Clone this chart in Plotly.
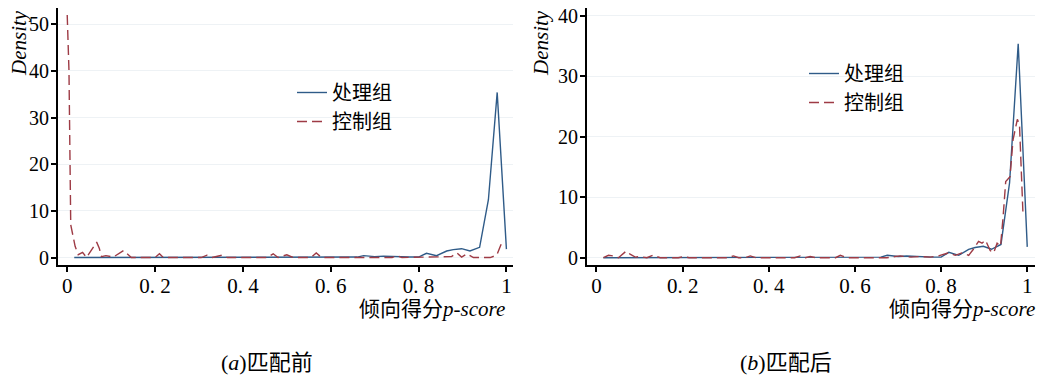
import plotly.graph_objects as go

# ---------------- data ----------------
treat_x = [0.016, 0.1, 0.2, 0.3, 0.4, 0.5, 0.6, 0.64, 0.66, 0.675, 0.70, 0.72, 0.74, 0.76,
           0.78, 0.80, 0.818, 0.841, 0.864, 0.879, 0.898, 0.917, 0.939, 0.959, 0.979, 1.0]
treat_y = [0, 0, 0, 0, 0, 0, 0, 0, 0.1, 0.4, 0.2, 0.3, 0.2, 0.1,
           0.1, 0.1, 0.9, 0.4, 1.4, 1.7, 1.9, 1.4, 2.2, 12.4, 35.4, 1.8]

ctrl_before_x = [0.0, 0.004, 0.008, 0.018, 0.025, 0.035, 0.044, 0.067, 0.073, 0.078, 0.088,
                 0.105, 0.128, 0.146, 0.2, 0.21, 0.219, 0.305, 0.318, 0.33, 0.352, 0.365,
                 0.455, 0.469, 0.48, 0.5, 0.515, 0.555, 0.567, 0.579, 0.74, 0.75, 0.762,
                 0.834, 0.875, 0.887, 0.898, 0.91, 0.925, 0.963, 0.978, 0.989]
ctrl_before_y = [52.0, 40.0, 7.0, 2.4, 0.6, 1.1, 0.0, 3.3, 2.0, 0.2, 0.4,
                 0.1, 1.5, 0.0, 0.0, 0.8, 0.0, 0.0, 0.5, 0.0, 0.5, 0.0,
                 0.0, 0.8, 0.0, 0.6, 0.0, 0.0, 1.0, 0.0, 0.0, 0.4, 0.0,
                 0.1, 0.2, 1.0, 0.1, 0.8, 0.0, 0.0, 0.5, 3.1]

ctrl_after_x = [0.016, 0.028, 0.04, 0.051, 0.069, 0.078, 0.09, 0.101, 0.117, 0.131, 0.148,
                0.19, 0.202, 0.215, 0.305, 0.318, 0.33, 0.345, 0.357, 0.37, 0.46, 0.473,
                0.485, 0.496, 0.51, 0.555, 0.566, 0.581, 0.674, 0.705, 0.73, 0.751, 0.775,
                0.794, 0.817, 0.833, 0.848, 0.864, 0.875, 0.887, 0.895, 0.903, 0.914,
                0.922, 0.93, 0.938, 0.944, 0.95, 0.96, 0.967, 0.977, 0.982, 0.99]
ctrl_after_y = [0.0, 0.4, 0.3, 0.0, 1.1, 0.6, 0.1, 0.2, 0.0, 0.4, 0.0,
                0.0, 0.2, 0.0, 0.0, 0.3, 0.0, 0.0, 0.3, 0.0, 0.0, 0.3,
                0.0, 0.2, 0.0, 0.0, 0.4, 0.0, 0.0, 0.3, 0.1, 0.2, 0.1,
                0.3, 0.8, 0.4, 0.8, 0.4, 1.4, 2.7, 2.4, 2.9, 1.2,
                0.8, 2.4, 1.9, 6.8, 12.6, 13.4, 19.5, 22.9, 22.0, 7.4]

legend_names = ["处理组", "控制组"]
x_tickvals = [0, 0.2, 0.4, 0.6, 0.8, 1]
x_ticktext = ["0", "0. 2", "0. 4", "0. 6", "0. 8", "1"]
y_ticks_a = [0, 10, 20, 30, 40, 50]
y_ticks_b = [0, 10, 20, 30, 40]
x_title = "倾向得分<i>p-score</i>"
y_title = "<i>Density</i>"
subtitles = ["(<i>a</i>)匹配前", "(<i>b</i>)匹配后"]

# ---------------- style ----------------
BLUE = "#2f5b88"
RED = "#9e3b45"
SERIF = "Liberation Serif, Noto Sans CJK SC, serif"
OFF = 8                      # page body margin
W, H = 1052 - OFF, 378 - OFF

def px_x(p):
    return min(max((p - OFF) / W, 0), 1)

def px_y(p):
    return min(max(1 - (p - OFF) / H, 0), 1)

fig = go.Figure()
fig.add_trace(go.Scatter(x=treat_x, y=treat_y, mode="lines", name=legend_names[0],
                         line=dict(color=BLUE, width=1.4), xaxis="x", yaxis="y", legend="legend"))
fig.add_trace(go.Scatter(x=ctrl_before_x, y=ctrl_before_y, mode="lines", name=legend_names[1],
                         line=dict(color=RED, width=1.4, dash="10px,5px"), xaxis="x", yaxis="y",
                         legend="legend"))
fig.add_trace(go.Scatter(x=treat_x, y=treat_y, mode="lines", name=legend_names[0],
                         line=dict(color=BLUE, width=1.4), xaxis="x2", yaxis="y2", legend="legend2"))
fig.add_trace(go.Scatter(x=ctrl_after_x, y=ctrl_after_y, mode="lines", name=legend_names[1],
                         line=dict(color=RED, width=1.4, dash="10px,5px"), xaxis="x2", yaxis="y2",
                         legend="legend2"))

ydom = [px_y(265), px_y(8)]

xaxis_common = dict(
    showline=True, linecolor="black", linewidth=2, showgrid=False, zeroline=False,
    ticks="outside", ticklen=5, tickwidth=2, tickcolor="black",
    tickvals=x_tickvals, ticktext=x_ticktext, tickfont=dict(family=SERIF, size=21, color="black"),
    ticklabelstandoff=-4, ticklabeloverflow="allow", automargin=False, fixedrange=True,
)
yaxis_common = dict(
    showline=True, linecolor="black", linewidth=2, showgrid=True, gridcolor="#eef2f5", gridwidth=1,
    zeroline=False, ticks="outside", ticklen=5, tickwidth=2, tickcolor="black",
    tickfont=dict(family=SERIF, size=20, color="black"), ticklabelstandoff=-2,
    ticklabeloverflow="allow", automargin=False, fixedrange=True,
)

legend_style = dict(xanchor="left", yanchor="top", bgcolor="rgba(0,0,0,0)",
                    font=dict(family="Noto Sans CJK SC", size=20, color="black"),
                    itemwidth=30, tracegroupgap=0)

fig.update_layout(
    width=W, height=H, margin=dict(l=0, r=0, t=0, b=0),
    paper_bgcolor="white", plot_bgcolor="white",
    xaxis=dict(domain=[px_x(58), px_x(513)], range=[-0.021, 1.015], anchor="y", **xaxis_common),
    yaxis=dict(domain=ydom, range=[-1.6, 53.5], anchor="x", tickvals=y_ticks_a, **yaxis_common),
    xaxis2=dict(domain=[px_x(587), px_x(1035)], range=[-0.022, 1.018], anchor="y2", **xaxis_common),
    yaxis2=dict(domain=ydom, range=[-1.2, 41.3], anchor="x2", tickvals=y_ticks_b, **yaxis_common),
    legend=dict(x=px_x(292), y=px_y(73), **legend_style),
    legend2=dict(x=px_x(804), y=px_y(54), **legend_style),
)

annotations = []
for x0 in [507, 1037]:
    annotations.append(dict(text=x_title, x=px_x(x0), y=px_y(309), xref="paper", yref="paper",
                            xanchor="right", yanchor="middle", showarrow=False,
                            font=dict(family=SERIF, size=21, color="black")))
for xc in [19, 541]:
    annotations.append(dict(text=y_title, x=px_x(xc), y=px_y(8), xref="paper", yref="paper",
                            xanchor="center", yanchor="top", textangle=-90, showarrow=False,
                            font=dict(family=SERIF, size=21, color="black")))
for xc, t in zip([267, 786], subtitles):
    annotations.append(dict(text=t, x=px_x(xc), y=px_y(362), xref="paper", yref="paper",
                            xanchor="center", yanchor="middle", showarrow=False,
                            font=dict(family=SERIF, size=22, color="black")))
fig.update_layout(annotations=annotations)

fig.write_html("out.html")
